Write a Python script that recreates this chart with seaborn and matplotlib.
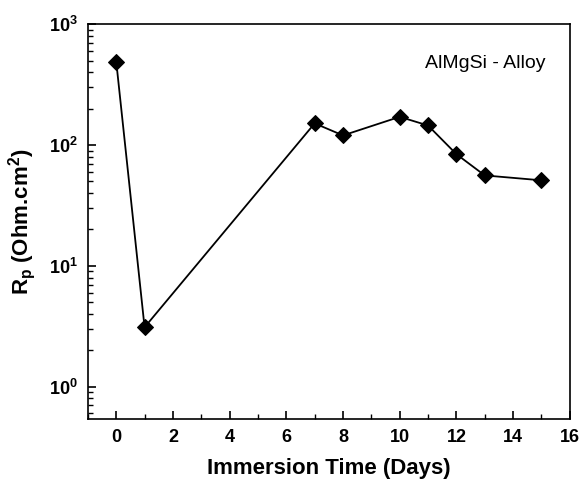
import matplotlib
matplotlib.use("Agg")
import matplotlib.pyplot as plt
import seaborn as sns
import pandas as pd
from matplotlib.ticker import LogLocator, MultipleLocator

days = [0, 1, 7, 8, 10, 11, 12, 13, 15]
rp = [490, 3.1, 151, 120, 171, 145, 84, 56, 51]

sns.set_theme(style="ticks")
plt.rcParams['font.family'] = ['Liberation Sans', 'DejaVu Sans']
plt.rcParams['mathtext.default'] = 'regular'
plt.rcParams['text.color'] = 'black'
plt.rcParams['axes.labelcolor'] = 'black'
plt.rcParams['xtick.color'] = 'black'
plt.rcParams['ytick.color'] = 'black'
plt.rcParams['axes.edgecolor'] = 'black'

df = pd.DataFrame({"Immersion Time (Days)": days, "Rp": rp})

fig = plt.figure(figsize=(5.82, 4.83), dpi=100)
ax = fig.add_axes([0.151, 0.1325, 0.828, 0.8175])
sns.lineplot(data=df, x="Immersion Time (Days)", y="Rp", ax=ax, color="black",
             marker="D", markersize=8, markeredgecolor="black", linewidth=1.3)
ax.set_yscale("log")
ax.set_xlim(-1, 16)
ax.set_ylim(0.54, 1000)
ax.xaxis.set_major_locator(MultipleLocator(2))
ax.xaxis.set_minor_locator(MultipleLocator(1))
ax.yaxis.set_major_locator(LogLocator(base=10, numticks=10))
ax.yaxis.set_minor_locator(LogLocator(base=10, subs=range(2, 10), numticks=10))
ax.tick_params(which="both", direction="in", top=False, right=False)
ax.tick_params(which="major", length=6, width=1.2, labelsize=13, pad=7)
ax.tick_params(which="minor", length=3.5, width=1.0)
for lab in ax.get_xticklabels() + ax.get_yticklabels():
    lab.set_fontweight("bold")
for s in ax.spines.values():
    s.set_linewidth(1.2)
ax.set_xlabel("Immersion Time (Days)", fontsize=16, fontweight="bold", labelpad=9)
ax.set_ylabel("R$_p$ (Ohm.cm$^2$)", fontsize=16, fontweight="bold", labelpad=8)
ax.text(0.95, 0.9, "AlMgSi - Alloy", transform=ax.transAxes, ha="right", va="center", fontsize=14)
fig.savefig("out.png", dpi=100)
